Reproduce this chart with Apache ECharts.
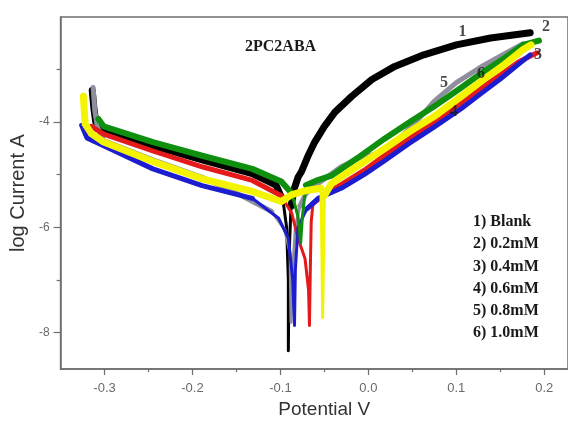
<!DOCTYPE html>
<html>
<head>
<meta charset="utf-8">
<script src="https://cdn.jsdelivr.net/npm/echarts@6/dist/echarts.min.js"></script>
<style>
  html, body { margin: 0; padding: 0; background: #ffffff; }
  #chart { width: 568px; height: 424px; }
</style>
</head>
<body>
<div id="chart"></div>
<script>
  // Tafel curves, [potential V, log current A]
  const blankPts = [
    [-0.314, -3.40], [-0.312, -3.75], [-0.310, -4.00], [-0.300, -4.14], [-0.245, -4.45], [-0.189, -4.72],
    [-0.132, -4.98], [-0.105, -5.20], [-0.097, -5.50], [-0.093, -6.00], [-0.091, -7.00], [-0.091, -8.35],
    [-0.090, -6.50], [-0.088, -5.60], [-0.084, -5.25], [-0.080, -5.05], [-0.076, -4.94], [-0.068, -4.62],
    [-0.061, -4.38], [-0.050, -4.08], [-0.038, -3.81], [-0.019, -3.51], [0.004, -3.19], [0.030, -2.94],
    [0.063, -2.72], [0.100, -2.53], [0.139, -2.40], [0.184, -2.30]
  ]
  const mM02Pts = [
    [-0.307, -3.94], [-0.301, -4.08], [-0.245, -4.38], [-0.189, -4.64], [-0.132, -4.89], [-0.099, -5.13],
    [-0.087, -5.36], [-0.080, -5.80], [-0.077, -6.30], [-0.075, -5.80], [-0.071, -5.20], [-0.060, -5.12],
    [-0.042, -5.02], [-0.012, -4.68], [0.018, -4.32], [0.045, -4.02], [0.075, -3.70], [0.105, -3.35],
    [0.131, -3.04], [0.155, -2.78], [0.176, -2.53], [0.194, -2.45]
  ]
  const mM04Pts = [
    [-0.315, -4.08], [-0.301, -4.23], [-0.245, -4.55], [-0.189, -4.85], [-0.132, -5.11], [-0.099, -5.40],
    [-0.087, -5.74], [-0.080, -6.21], [-0.072, -6.60], [-0.068, -7.20], [-0.067, -7.87], [-0.066, -6.80],
    [-0.065, -5.90], [-0.063, -5.55], [-0.050, -5.38], [-0.031, -5.19], [-0.005, -4.92], [0.018, -4.64],
    [0.045, -4.33], [0.075, -4.00], [0.105, -3.64], [0.131, -3.32], [0.152, -3.08], [0.171, -2.85], [0.192, -2.68]
  ]
  const mM06Pts = [
    [-0.326, -4.06], [-0.320, -4.30], [-0.301, -4.45], [-0.245, -4.89], [-0.189, -5.21], [-0.132, -5.45],
    [-0.102, -5.83], [-0.091, -6.21], [-0.086, -7.00], [-0.084, -7.87], [-0.083, -6.80], [-0.080, -6.00],
    [-0.070, -5.65], [-0.057, -5.45], [-0.031, -5.26], [-0.005, -5.00], [0.018, -4.74], [0.045, -4.42],
    [0.075, -4.09], [0.105, -3.75], [0.131, -3.42], [0.150, -3.18], [0.166, -2.96], [0.184, -2.72]
  ]
  const mM08Pts = [
    [-0.313, -3.34], [-0.311, -3.80], [-0.308, -4.10], [-0.301, -4.35], [-0.245, -4.72], [-0.189, -5.05],
    [-0.144, -5.40], [-0.110, -5.70], [-0.095, -6.05], [-0.089, -6.50], [-0.088, -7.81], [-0.086, -6.80],
    [-0.083, -6.00], [-0.078, -5.60], [-0.071, -5.36], [-0.057, -5.17], [-0.031, -4.85], [-0.010, -4.68],
    [0.010, -4.60], [0.036, -4.30], [0.055, -3.98], [0.075, -3.60], [0.100, -3.25], [0.131, -2.92],
    [0.155, -2.70], [0.176, -2.51]
  ]
  const mM10Pts = [
    [-0.324, -3.51], [-0.323, -3.80], [-0.322, -4.04], [-0.315, -4.22], [-0.301, -4.38], [-0.245, -4.75],
    [-0.189, -5.08], [-0.132, -5.32], [-0.099, -5.51], [-0.087, -5.38], [-0.070, -5.30], [-0.054, -5.26],
    [-0.053, -6.20], [-0.052, -7.72], [-0.051, -6.50], [-0.050, -5.40], [-0.042, -5.17], [-0.020, -4.92],
    [0.018, -4.51], [0.045, -4.20], [0.075, -3.89], [0.105, -3.52], [0.131, -3.19], [0.155, -2.90],
    [0.176, -2.62], [0.185, -2.53]
  ]

  // curve numbers written on the plot
  const numX = [0.107, 0.202, 0.193, 0.097, 0.086, 0.128]
  const numY = [-2.28, -2.19, -2.72, -3.81, -3.25, -3.09]
  const numText = ['1', '2', '3', '4', '5', '6']

  const legendLines = ['1) Blank', '2) 0.2mM', '3) 0.4mM', '4) 0.6mM', '5) 0.8mM', '6) 1.0mM']

  const xMajor = [-0.3, -0.2, -0.1, 0, 0.1, 0.2]
  const xMinor = [-0.25, -0.15, -0.05, 0.05, 0.15]
  const yMajor = [-8, -6, -4]
  const yMinor = [-7, -5, -3]

  const X_MIN = -0.35, X_MAX = 0.227, Y_MIN = -8.7, Y_MAX = -2
  const AXIS_COLOR = '#6f6f6f'
  const LABEL_COLOR = '#6a6a6a'

  // thin line for the whole curve, thick band only above the corrosion spike
  function curveSeries(name, pts, color, bandWidth, cut) {
    let band = pts.map(p => p[1] >= cut ? p : [p[0], '-'])
    return [
      {
        name: name, type: 'line', data: pts, showSymbol: false, symbol: 'none',
        lineStyle: { color: color, width: 3, join: 'round', cap: 'round' }, z: 2
      },
      {
        name: name, type: 'line', data: band, showSymbol: false, symbol: 'none', connectNulls: false,
        lineStyle: { color: color, width: bandWidth, join: 'round', cap: 'round' }, z: 2
      }
    ]
  }

  function xAxisOf(ticks, len, showLabel, showLine) {
    return {
      type: 'value', min: X_MIN, max: X_MAX, position: 'bottom',
      splitLine: { show: false },
      axisLine: { show: showLine, onZero: false, lineStyle: { color: AXIS_COLOR, width: 1.5 } },
      axisTick: { show: true, customValues: ticks, length: len, lineStyle: { color: AXIS_COLOR, width: 1.2 } },
      axisLabel: {
        show: showLabel, customValues: ticks, margin: 13,
        color: LABEL_COLOR, fontSize: 13, fontFamily: 'Liberation Sans',
        formatter: v => Number(v).toFixed(1)
      }
    }
  }

  function yAxisOf(ticks, len, showLabel, showLine) {
    return {
      type: 'value', min: Y_MIN, max: Y_MAX, position: 'left',
      splitLine: { show: false },
      axisLine: { show: showLine, onZero: false, lineStyle: { color: AXIS_COLOR, width: 1.5 } },
      axisTick: { show: true, customValues: ticks, length: len, lineStyle: { color: AXIS_COLOR, width: 1.2 } },
      axisLabel: {
        show: showLabel, customValues: ticks, margin: 11,
        color: LABEL_COLOR, fontSize: 12, fontFamily: 'Liberation Sans',
        formatter: v => String(Math.round(v))
      }
    }
  }

  const xMain = xAxisOf(xMajor, 6, true, true)
  xMain.name = 'Potential V'
  xMain.nameLocation = 'middle'
  xMain.nameGap = 30
  xMain.nameTextStyle = { color: '#333', fontSize: 19, fontFamily: 'Liberation Sans', padding: [0, 0, 0, 20] }

  const yMain = yAxisOf(yMajor, 7, true, true)
  yMain.name = 'log Current A'
  yMain.nameLocation = 'middle'
  yMain.nameGap = 28
  yMain.nameTextStyle = { color: '#333', fontSize: 20, fontFamily: 'Liberation Sans' }

  const chart = echarts.init(document.getElementById('chart'), null, { renderer: 'canvas' })
  chart.setOption({
    animation: false,
    backgroundColor: '#ffffff',
    grid: {
      left: 57, top: 17, right: -2, bottom: 52,
      show: true, borderColor: AXIS_COLOR, borderWidth: 1.5, backgroundColor: 'transparent'
    },
    xAxis: [xMain, xAxisOf(xMinor, 3, false, false)],
    yAxis: [yMain, yAxisOf(yMinor, 4, false, false)],
    series: [
      ...curveSeries('Blank', blankPts, '#000000', 7, -5.6),
      ...curveSeries('0.8mM', mM08Pts, '#8e8e9e', 5, -5.8),
      ...curveSeries('0.4mM', mM04Pts, '#e41a1a', 5, -5.6),
      ...curveSeries('0.6mM', mM06Pts, '#1c1cd0', 5, -5.7),
      ...curveSeries('0.2mM', mM02Pts, '#0e8f0e', 6, -5.5),
      ...curveSeries('1.0mM', mM10Pts, '#f4f400', 7, -5.6),
      {
        name: 'curve numbers',
        type: 'scatter',
        symbolSize: 1,
        itemStyle: { color: 'rgba(0,0,0,0)' },
        data: numX.map((x, i) => [x, numY[i], numText[i]]),
        label: {
          show: true, position: 'inside',
          formatter: p => p.value[2],
          color: '#1a1a1a', fontSize: 16, fontWeight: 'bold', fontFamily: 'Liberation Serif'
        },
        z: 5
      }
    ],
    graphic: [
      {
        type: 'text', left: 245, top: 39,
        style: { text: '2PC2ABA', fill: '#1a1a1a', font: 'bold 16px "Liberation Serif"' }
      },
      {
        type: 'text', left: 473, top: 211,
        style: {
          text: legendLines.join('\n'), fill: '#1a1a1a',
          font: 'bold 16px "Liberation Serif"', lineHeight: 22.2
        }
      }
    ]
  })
</script>
</body>
</html>
